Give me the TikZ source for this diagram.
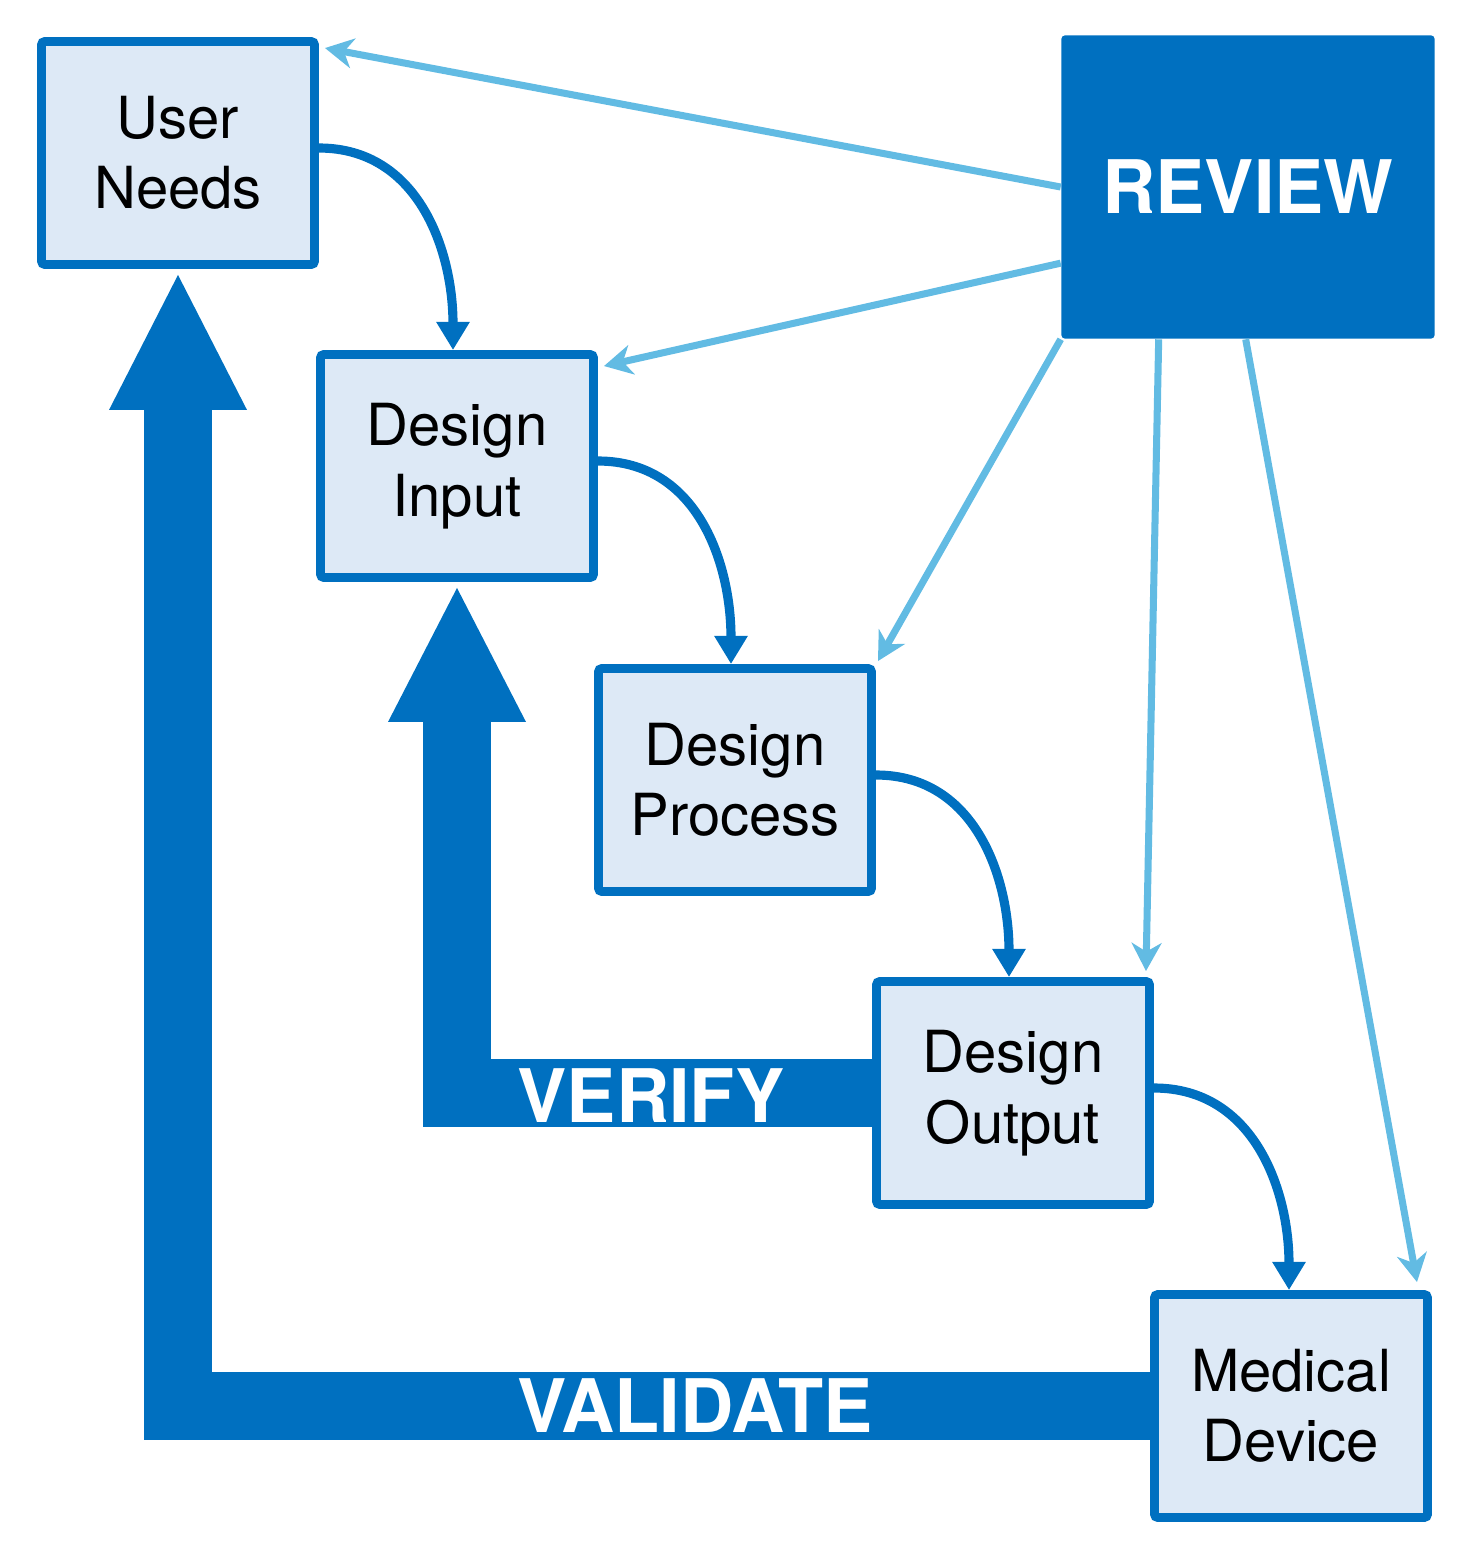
\documentclass[tikz,border=0pt]{standalone}
\usepackage{fontspec}
\setmainfont{TeX Gyre Heros}
\usetikzlibrary{arrows.meta,calc,backgrounds}
\definecolor{dblue}{HTML}{0070C0}
\definecolor{lblue}{HTML}{62BBE3}
\definecolor{fblue}{HTML}{DDE9F6}
\begin{document}
\begin{tikzpicture}[x=0.01cm,y=-0.01cm,
  box/.style={draw=dblue, line width=2.5pt, fill=fblue, minimum width=2.73cm, minimum height=2.23cm,
    inner sep=0pt, align=center, font=\fontsize{16.5}{20}\selectfont, rounded corners=1pt},
  flow/.style={draw=dblue, line width=2.6pt, looseness=1.05, -{Triangle[length=8pt,width=9pt]}},
  revarrow/.style={draw=lblue, line width=2pt, -{Stealth[length=8pt,width=8.5pt,inset=2.5pt]}},
  big/.style={draw=dblue, line width=19.35pt, line join=miter},
  biglabel/.style={text=white, font=\bfseries\fontsize{21}{24}\selectfont, inner sep=0pt, anchor=base}
]
\path[use as bounding box] (0,0) rectangle (1473,1566);

% boxes
\node[box] (un) at (178,153) {User\\Needs};
\node[box] (di) at (457,466) {Design\\Input};
\node[box] (dp) at (735,780) {Design\\Process};
\node[box] (do) at (1013,1093) {Design\\Output};
\node[box] (md) at (1291,1406) {Medical\\Device};
\node[fill=dblue, minimum width=3.73cm, minimum height=3.03cm, inner sep=0pt, text=white,
  font=\bfseries\fontsize{21}{24}\selectfont, rounded corners=1pt] (rev) at (1248,187) {REVIEW};

% big arrows behind
\begin{scope}[on background layer]
  \draw[big] (md.center) -| ($(un.south)+(0,141)$);
  \fill[dblue] ($(un.south)+(0,6)$) -- ++(69,135) -- ++(-138,0) -- cycle;
  \draw[big] (do.center) -| ($(di.south)+(0,140)$);
  \fill[dblue] ($(di.south)+(0,6)$) -- ++(69,134) -- ++(-138,0) -- cycle;
\end{scope}

\node[biglabel] (verify) at (651,1122) {VERIFY};
\node[biglabel] (validate) at (695,1432) {VALIDATE};

% flow arrows
\draw[flow] ($(un.east)+(0,-5)$) to[out=0,in=90] ($(di.north)+(-4,0)$);
\draw[flow] ($(di.east)+(0,-5)$) to[out=0,in=90] ($(dp.north)+(-4,0)$);
\draw[flow] ($(dp.east)+(0,-5)$) to[out=0,in=90] ($(do.north)+(-4,0)$);
\draw[flow] ($(do.east)+(0,-5)$) to[out=0,in=90] ($(md.north)+(-2,0)$);

% review arrows
\draw[revarrow] (rev.west) -- ($(un.north east)+(6,11)$);
\draw[revarrow] ($(rev.north west)!0.75!(rev.south west)$) -- ($(di.north east)+(6,16)$);
\draw[revarrow] (rev.south west) -- ($(dp.north east)+(2,-3)$);
\draw[revarrow] ($(rev.south west)+(98,0)$) -- ($(do.north east)+(-8,-6)$);
\draw[revarrow] ($(rev.south west)+(185,0)$) -- ($(md.north east)+(-15,-8)$);
\end{tikzpicture}
\end{document}
